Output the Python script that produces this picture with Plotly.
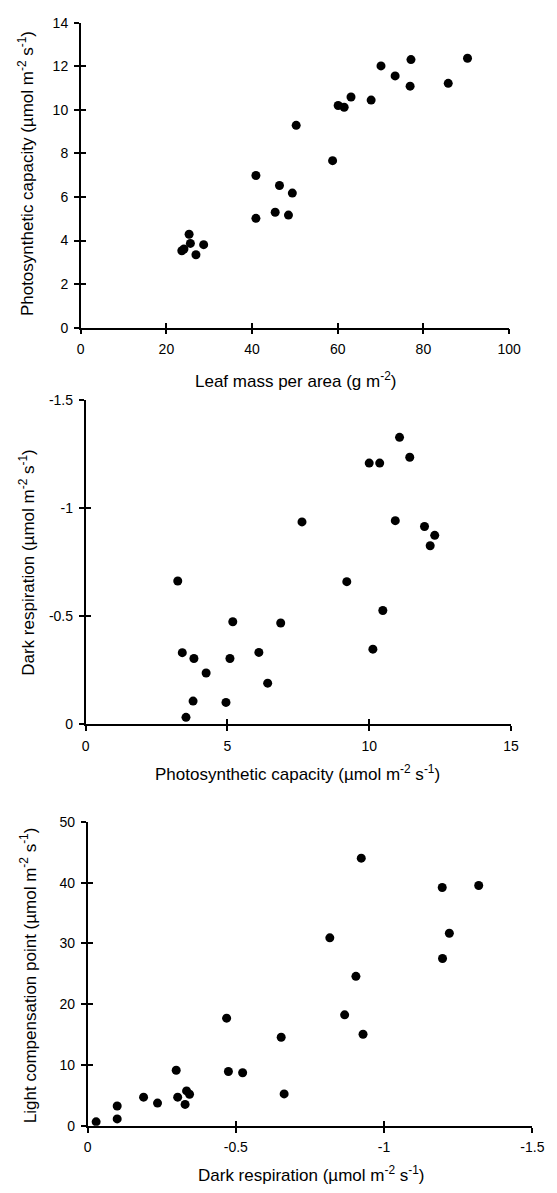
import plotly.graph_objects as go

# ---------------- data ----------------
# Panel 1: photosynthetic capacity vs leaf mass per area
lma = [23.6, 24.1, 25.3, 25.6, 26.9, 28.7, 40.9, 40.9, 45.4, 46.4, 48.5, 49.4,
       50.3, 58.8, 60.1, 61.5, 63.1, 67.8, 70.1, 73.4, 76.9, 77.1, 85.8, 90.3]
pc_lma = [3.53, 3.61, 4.29, 3.87, 3.35, 3.81, 6.99, 5.02, 5.30, 6.53, 5.17, 6.18,
          9.29, 7.67, 10.20, 10.12, 10.59, 10.45, 12.02, 11.56, 11.09, 12.31, 11.22, 12.37]

# Panel 2: dark respiration vs photosynthetic capacity
pc = [3.25, 3.41, 3.54, 3.79, 3.82, 4.25, 4.95, 5.09, 5.19, 6.11, 6.42, 6.88,
      7.63, 9.21, 10.00, 10.13, 10.37, 10.48, 10.92, 11.07, 11.43, 11.95, 12.15, 12.31]
rd_pc = [-0.662, -0.331, -0.032, -0.107, -0.304, -0.237, -0.101, -0.304, -0.474, -0.332, -0.190, -0.468,
         -0.935, -0.659, -1.207, -0.347, -1.207, -0.526, -0.941, -1.326, -1.234, -0.914, -0.825, -0.873]

# Panel 3: light compensation point vs dark respiration
rd = [-0.029, -0.100, -0.100, -0.189, -0.236, -0.299, -0.304, -0.329, -0.334, -0.344, -0.469, -0.475,
      -0.523, -0.653, -0.663, -0.817, -0.867, -0.905, -0.923, -0.929, -1.196, -1.197, -1.220, -1.319]
lcp = [0.65, 3.25, 1.14, 4.71, 3.74, 9.15, 4.71, 3.52, 5.74, 5.20, 17.71, 8.94,
       8.72, 14.57, 5.25, 30.93, 18.26, 24.59, 44.04, 15.06, 39.22, 27.52, 31.69, 39.55]

# tick definitions
p1_xticks = [0, 20, 40, 60, 80, 100]
p1_yticks = [0, 2, 4, 6, 8, 10, 12, 14]
p2_xticks = [0, 5, 10, 15]
p2_yticks = [0, -0.5, -1, -1.5]
p2_ylabels = ["0", "-0.5", "-1", "-1.5"]
p3_xticks = [0, -0.5, -1, -1.5]
p3_xlabels = ["0", "-0.5", "-1", "-1.5"]
p3_yticks = [0, 10, 20, 30, 40, 50]

W, H = 557, 1193
F = "Arial, Liberation Sans, sans-serif"

def px_x(v):
    return v / W

def px_y(v):
    return 1 - v / H

fig = go.Figure()
# empty traces for the overlay axes that draw the inner half of each tick
for k in (4, 5, 6):
    fig.add_trace(go.Scatter(x=[], y=[], xaxis=f"x{k}", yaxis=f"y{k}", showlegend=False,
                             hoverinfo="skip"))
marker = dict(color="black", size=9, line=dict(width=0))
fig.add_trace(go.Scatter(x=lma, y=pc_lma, mode="markers", marker=marker, xaxis="x", yaxis="y"))
fig.add_trace(go.Scatter(x=pc, y=rd_pc, mode="markers", marker=marker, xaxis="x2", yaxis="y2"))
fig.add_trace(go.Scatter(x=rd, y=lcp, mode="markers", marker=marker, xaxis="x3", yaxis="y3"))

base = dict(showline=True, linecolor="black", linewidth=1.5, ticks="outside", ticklen=5,
            tickwidth=1.5, tickcolor="black", showgrid=False, zeroline=False,
            tickfont=dict(family=F, size=14, color="black"), fixedrange=True,
            ticklabelstandoff=3)
inner = dict(showline=False, ticks="inside", ticklen=5, tickwidth=1.5, tickcolor="black",
             showticklabels=False, showgrid=False, zeroline=False, fixedrange=True)

doms = {
    1: dict(x=[px_x(79), px_x(520)], y=[px_y(324), px_y(15)]),
    2: dict(x=[px_x(84), px_x(522)], y=[px_y(726), px_y(397)]),
    3: dict(x=[px_x(86), px_x(544)], y=[px_y(1133), px_y(825)]),
}
axes = {
    1: dict(xr=[0, 100], yr=[0, 14], xt=p1_xticks, xl=[str(v) for v in p1_xticks],
            yt=p1_yticks, yl=[str(v) for v in p1_yticks]),
    2: dict(xr=[0, 15], yr=[0, -1.5], xt=p2_xticks, xl=[str(v) for v in p2_xticks],
            yt=p2_yticks, yl=p2_ylabels),
    3: dict(xr=[0, -1.5], yr=[0, 50], xt=p3_xticks, xl=p3_xlabels,
            yt=p3_yticks, yl=[str(v) for v in p3_yticks]),
}

lay = {}
for i in (1, 2, 3):
    s = "" if i == 1 else str(i)
    a = axes[i]
    d = doms[i]
    lay[f"xaxis{s}"] = dict(base, domain=d["x"], anchor=f"y{s}", range=a["xr"],
                            tickmode="array", tickvals=a["xt"], ticktext=a["xl"])
    lay[f"yaxis{s}"] = dict(base, domain=d["y"], anchor=f"x{s}", range=a["yr"],
                            tickmode="array", tickvals=a["yt"], ticktext=a["yl"])
    k = i + 3
    lay[f"xaxis{k}"] = dict(inner, domain=d["x"], anchor=f"y{k}", range=a["xr"],
                            overlaying=f"x{s}", tickmode="array", tickvals=a["xt"])
    lay[f"yaxis{k}"] = dict(inner, domain=d["y"], anchor=f"x{k}", range=a["yr"],
                            overlaying=f"y{s}", tickmode="array", tickvals=a["yt"])

unit = "(µmol m<sup>-2</sup> s<sup>-1</sup>)"
titles = [
    ("Leaf mass per area (g m<sup>-2</sup>)", 300, 377, 0),
    ("Photosynthetic capacity " + unit, 22, 168, -90),
    ("Photosynthetic capacity " + unit, 302, 775, 0),
    ("Dark respiration " + unit, 24, 562, -90),
    ("Dark respiration " + unit, 317, 1182, 0),
    ("Light compensation point " + unit, 25, 980, -90),
]
annotations = []
for text, x, y, ang in titles:
    annotations.append(dict(text=text, x=px_x(x), y=px_y(y), xref="paper", yref="paper",
                            xanchor="center", yanchor="middle", showarrow=False,
                            textangle=ang, font=dict(family=F, size=17, color="black")))

fig.update_layout(width=W, height=H, margin=dict(l=0, r=0, t=0, b=0),
                  paper_bgcolor="white", plot_bgcolor="white", showlegend=False,
                  annotations=annotations, **lay)

fig.write_html("out.html", config={"displayModeBar": False})
